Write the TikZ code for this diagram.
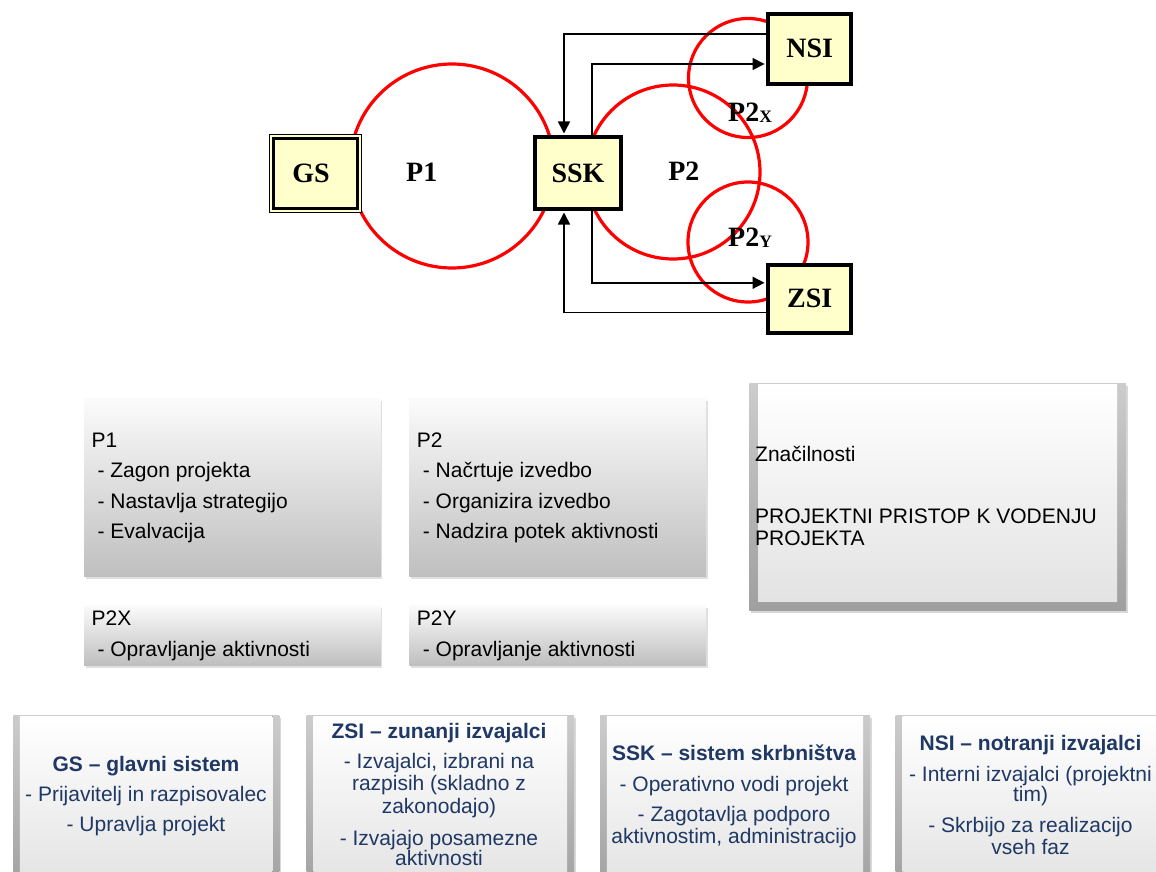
\documentclass[tikz,border=0pt]{standalone}
\usepackage{fontspec}
\setmainfont{Liberation Serif}
\newfontfamily\arialf{Liberation Sans}
\usetikzlibrary{arrows.meta,shadows,calc}
\definecolor{boxyellow}{HTML}{FFFFCC}
\definecolor{txtblue}{HTML}{1F3864}
\begin{document}
\begin{tikzpicture}[x=1pt,y=-1pt,
  ring/.style={draw=red,line width=3.2pt},
  sysbox/.style={draw=black,line width=4pt,fill=boxyellow,inner sep=0pt,font=\fontsize{28}{28}\selectfont\bfseries},
  lbl/.style={font=\fontsize{28}{28}\selectfont\bfseries,inner sep=0pt},
  conn/.style={line width=1.6pt,-{Triangle[width=12pt,length=12pt]},shorten >=1.5pt},
  panel/.style={inner sep=0pt,top color=gray!3,bottom color=gray!50,
    drop shadow={shadow xshift=1.5pt,shadow yshift=-3pt,opacity=0.25}},
  ptext/.style={font=\arialf\fontsize{21}{21}\selectfont,inner sep=0pt,anchor=base west},
  btitle/.style={font=\arialf\bfseries\fontsize{21}{21}\selectfont,text=txtblue,inner sep=0pt,anchor=base},
  btext/.style={font=\arialf\fontsize{21}{21}\selectfont,text=txtblue,inner sep=0pt,anchor=base},
  bevel/.style={inner sep=0pt,top color=gray!40,bottom color=gray!75,
    drop shadow={shadow xshift=2pt,shadow yshift=-3pt,opacity=0.3}},
  bevelin/.style={top color=white,bottom color=gray!22}
]
\useasboundingbox (0,0) rectangle (1156,872);
\fill[white] (0,0) rectangle (1156,872);

% red process circles
\draw[ring] (452,166) circle[radius=102pt];
\draw[ring] (673,172) circle[radius=87pt];
\draw[ring] (748,78) circle[radius=59.5pt];
\draw[ring] (748,242) circle[radius=60pt];

% system boxes
\node[draw=black,line width=1.4pt,fill=boxyellow,minimum width=92pt,minimum height=78pt,
      inner sep=0pt,font=\fontsize{28}{28}\selectfont\bfseries] (gs) at (315.5,173.5) {\hspace*{-9pt}GS};
\draw[line width=2.6pt] ($(gs.north west)+(4.5,4.5)$) rectangle ($(gs.south east)+(-4.5,-4.5)$);
\node[sysbox,minimum width=86pt,minimum height=72pt] (ssk) at (578,173) {SSK};
\node[sysbox,minimum width=83.3pt,minimum height=70.3pt] (nsi) at (809.7,48.8) {NSI};
\node[sysbox,minimum width=83.3pt,minimum height=68.3pt] (zsi) at (809.7,298.8) {ZSI};

% connectors
\draw[conn] ([yshift=14.5pt]nsi.west) -| ([xshift=-14pt]ssk.north);
\draw[conn] ([xshift=14pt]ssk.north) |- ([yshift=-15.2pt]nsi.west);
\draw[conn] ([xshift=14pt]ssk.south) |- ([yshift=16pt]zsi.west);
\draw[conn] ([yshift=-13.5pt]zsi.west) -| ([xshift=-14pt]ssk.south);

% process labels
\node[lbl,anchor=base] (lp1) at (421.7,181.7) {P1};
\node[lbl,anchor=base] (lp2) at (683.8,180) {P2};
\node[lbl,anchor=base west] (lp2x) at (728,121.7) {P2{\fontsize{17.5}{17.5}\selectfont\raisebox{-1pt}{X}}};
\node[lbl,anchor=base west] (lp2y) at (728,246.7) {P2{\fontsize{17.5}{17.5}\selectfont\raisebox{-1pt}{Y}}};

% description panels
\node[panel,minimum width=296.7pt,minimum height=177.7pt] (p1box) at (232.35,487.15) {};
\node[panel,minimum width=296.7pt,minimum height=177.7pt] (p2box) at (557.65,487.15) {};
\node[panel,minimum width=296.7pt,minimum height=60pt] (p2xbox) at (232.35,635) {};
\node[panel,minimum width=296.7pt,minimum height=60pt] (p2ybox) at (557.65,635) {};

\node[ptext] (p1a) at (91.4,447.7) {P1};
\node[ptext] (p1b) at (97.4,477.9) {- Zagon projekta};
\node[ptext] (p1c) at (97.4,508.1) {- Nastavlja strategijo};
\node[ptext] (p1d) at (97.4,538.3) {- Evalvacija};

\node[ptext] (p2a) at (416.7,447.7) {P2};
\node[ptext] (p2b) at (422.7,477.9) {- Načrtuje izvedbo};
\node[ptext] (p2c) at (422.7,508.1) {- Organizira izvedbo};
\node[ptext] (p2d) at (422.7,538.3) {- Nadzira potek aktivnosti};

\node[ptext] (p2xa) at (91.4,625.7) {P2X};
\node[ptext] (p2xb) at (97.4,656) {- Opravljanje aktivnosti};
\node[ptext] (p2ya) at (416.7,625.7) {P2Y};
\node[ptext] (p2yb) at (422.7,656) {- Opravljanje aktivnosti};

% characteristics panel
\node[bevel,minimum width=376.7pt,minimum height=226.7pt] (znbox) at (937.65,496.65) {};
\fill[bevelin] ($(znbox.north west)+(9,1.5)$) rectangle ($(znbox.south east)+(-9,-9)$);
\node[ptext] (zna) at (755,461.7) {Značilnosti};
\node[ptext] (znb) at (755,523.3) {PROJEKTNI PRISTOP K VODENJU};
\node[ptext] (znc) at (755,545) {PROJEKTA};

% bottom role boxes
\node[bevel,minimum width=266.3pt,minimum height=180pt] (gsd) at (146.15,805) {};
\fill[bevelin] ($(gsd.north west)+(7,1.5)$) rectangle ($(gsd.south east)+(-7,-7)$);
\node[bevel,minimum width=267.3pt,minimum height=180pt] (zsid) at (440.35,805) {};
\fill[bevelin] ($(zsid.north west)+(7,1.5)$) rectangle ($(zsid.south east)+(-7,-7)$);
\node[bevel,minimum width=270pt,minimum height=180pt] (sskd) at (735,805) {};
\fill[bevelin] ($(sskd.north west)+(7,1.5)$) rectangle ($(sskd.south east)+(-7,-7)$);
\node[bevel,minimum width=267.3pt,minimum height=180pt] (nsid) at (1029.35,805) {};
\fill[bevelin] ($(nsid.north west)+(7,1.5)$) rectangle ($(nsid.south east)+(-7,-7)$);

\node[btitle] (gst) at (146,771.7) {GS – glavni sistem};
\node[btext] (gs1) at (146,801.7) {- Prijavitelj in razpisovalec};
\node[btext] (gs2) at (146,831.7) {- Upravlja projekt};

\node[btitle] (zst) at (439,738.3) {ZSI – zunanji izvajalci};
\node[btext] (zs1) at (439,768.3) {- Izvajalci, izbrani na};
\node[btext] (zs2) at (439,790.7) {razpisih (skladno z};
\node[btext] (zs3) at (439,813.3) {zakonodajo)};
\node[btext] (zs4) at (439,845) {- Izvajajo posamezne};
\node[btext] (zs5) at (439,865.7) {aktivnosti};

\node[btitle] (sst) at (734,760) {SSK – sistem skrbništva};
\node[btext] (ss1) at (734,791.7) {- Operativno vodi projekt};
\node[btext] (ss2) at (734,821.7) {- Zagotavlja podporo};
\node[btext] (ss3) at (734,843.3) {aktivnostim, administracijo};

\node[btitle] (nst) at (1030.5,750) {NSI – notranji izvajalci};
\node[btext] (ns1) at (1030.5,781) {- Interni izvajalci (projektni};
\node[btext] (ns2) at (1030.5,801.7) {tim)};
\node[btext] (ns3) at (1030.5,832.7) {- Skrbijo za realizacijo};
\node[btext] (ns4) at (1030.5,854) {vseh faz};
\end{tikzpicture}
\end{document}
